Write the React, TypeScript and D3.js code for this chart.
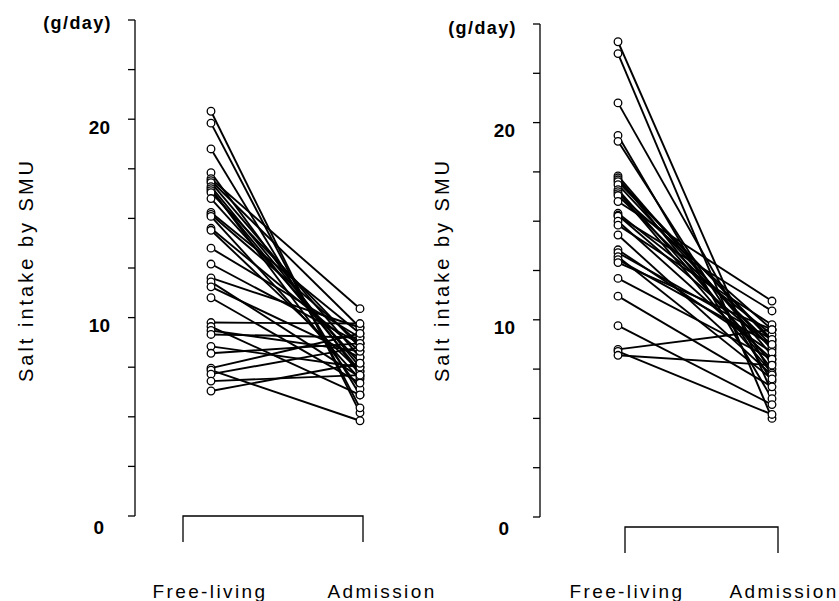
import React from 'react';
import * as d3 from 'd3';

// salt intake (g/day), one entry per subject: free-living vs. admission
const leftFree = [20.4, 19.8, 18.5, 17.3, 17.0, 16.9, 16.8, 16.6, 16.5, 16.4, 16.3, 16.0, 15.3, 15.2, 15.1, 14.5, 14.4, 13.5, 12.7, 12.0, 11.8, 11.55, 11.0, 9.75, 9.55, 9.35, 9.15, 8.55, 8.2, 7.45, 7.35, 7.15, 6.8, 6.3];
const leftAdm = [5.2, 5.45, 6.1, 7.1, 10.45, 9.5, 8.0, 7.5, 6.4, 7.3, 8.5, 7.7, 9.2, 8.7, 6.9, 8.3, 7.3, 9.0, 8.7, 9.5, 7.0, 8.0, 6.7, 9.7, 6.1, 8.3, 9.0, 7.5, 8.7, 9.2, 4.8, 8.5, 7.1, 7.7];

const rightFree = [24.1, 23.5, 21.0, 19.35, 19.05, 17.3, 17.2, 17.1, 17.0, 16.85, 16.6, 16.5, 16.4, 16.3, 16.0, 15.4, 15.3, 15.25, 15.0, 14.8, 14.3, 13.55, 13.4, 13.2, 13.05, 12.9, 12.1, 11.2, 9.7, 8.5, 8.4, 8.2];
const rightAdm = [6.3, 5.0, 7.2, 6.0, 6.9, 8.2, 7.5, 8.9, 9.0, 8.5, 7.8, 7.3, 9.5, 8.7, 10.95, 9.25, 8.6, 10.45, 8.0, 9.75, 7.2, 8.35, 9.0, 7.0, 8.75, 9.5, 8.0, 6.6, 5.7, 9.5, 5.2, 7.7];

const categories = ['Free-living', 'Admission'];
const tickLabels = [0, 10, 20];
const yMax = 25;
const yTitle = 'Salt intake by SMU';
const unit = '(g/day)';

const FONT = '"Liberation Sans", Arial, Helvetica, sans-serif';

type PanelProps = {
  free: number[];
  adm: number[];
  axisX: number;
  yBottom: number;
  yTop: number;
  pointX: [number, number];
  labelX: [number, number];
  bracket: [number, number, number];
  unitY: number;
  titleX: number;
};

function Panel({ free, adm, axisX, yBottom, yTop, pointX, labelX, bracket, unitY, titleX }: PanelProps) {
  const y = d3.scaleLinear().domain([0, yMax]).range([yBottom, yTop]);
  const x = d3.scalePoint<string>().domain(categories).range(pointX);
  const minor = d3.range(0, yMax + 0.01, 2.5);
  const pairs = free.map((f, i) => [f, adm[i]]);
  const line = d3
    .line<[string, number]>()
    .x((d) => x(d[0]) as number)
    .y((d) => y(d[1]));

  return (
    <g>
      {/* y axis */}
      <line x1={axisX} x2={axisX} y1={y(0)} y2={y(yMax)} stroke="#000" strokeWidth={1.3} />
      {minor.map((t) => (
        <line key={t} x1={axisX - 7} x2={axisX} y1={y(t)} y2={y(t)} stroke="#000" strokeWidth={1.3} />
      ))}
      {tickLabels.map((t) => (
        <text
          key={t}
          x={axisX - 25 - (t === 0 ? 6 : 0)}
          y={y(t) + (t === 0 ? 11 : 8)}
          dy="0.35em"
          textAnchor="end"
          fontFamily={FONT}
          fontWeight="bold"
          fontSize={19}
        >
          {t}
        </text>
      ))}
      <text x={axisX - 23} y={unitY} textAnchor="end" fontFamily={FONT} fontWeight="bold" fontSize={18} letterSpacing={1.4}>
        {unit}
      </text>
      <text
        transform={`translate(${titleX},270) rotate(-90)`}
        textAnchor="middle"
        dy="0.35em"
        fontFamily={FONT}
        fontSize={20}
        letterSpacing={3}
      >
        {yTitle}
      </text>

      {/* paired lines */}
      {pairs.map((p, i) => (
        <path
          key={i}
          d={line([
            [categories[0], p[0]],
            [categories[1], p[1]],
          ]) as string}
          fill="none"
          stroke="#000"
          strokeWidth={1.9}
        />
      ))}
      {pairs.map((p, i) => (
        <g key={i}>
          <circle cx={x(categories[0])} cy={y(p[0])} r={3.8} fill="#fff" stroke="#000" strokeWidth={1.3} />
          <circle cx={x(categories[1])} cy={y(p[1])} r={3.8} fill="#fff" stroke="#000" strokeWidth={1.3} />
        </g>
      ))}

      {/* bracket under the categories */}
      <path
        d={`M${bracket[0]},${bracket[2] + 26}V${bracket[2]}H${bracket[1]}V${bracket[2] + 26}`}
        fill="none"
        stroke="#000"
        strokeWidth={1.3}
      />
      {categories.map((c, i) => (
        <text key={c} x={labelX[i]} y={598} textAnchor="middle" fontFamily={FONT} fontSize={19} letterSpacing={2.4}>
          {c}
        </text>
      ))}
    </g>
  );
}

export default function App() {
  return (
    <svg width={839} height={601} style={{ position: 'absolute', left: 0, top: 0, background: '#fff' }}>
      <Panel
        free={leftFree}
        adm={leftAdm}
        axisX={135}
        yBottom={516}
        yTop={20}
        pointX={[211, 360]}
        labelX={[210, 382]}
        bracket={[183, 363, 516]}
        unitY={29}
        titleX={26}
      />
      <Panel
        free={rightFree}
        adm={rightAdm}
        axisX={540}
        yBottom={517}
        yTop={24}
        pointX={[618, 772]}
        labelX={[627, 784]}
        bracket={[625, 778, 527]}
        unitY={34}
        titleX={442}
      />
    </svg>
  );
}
